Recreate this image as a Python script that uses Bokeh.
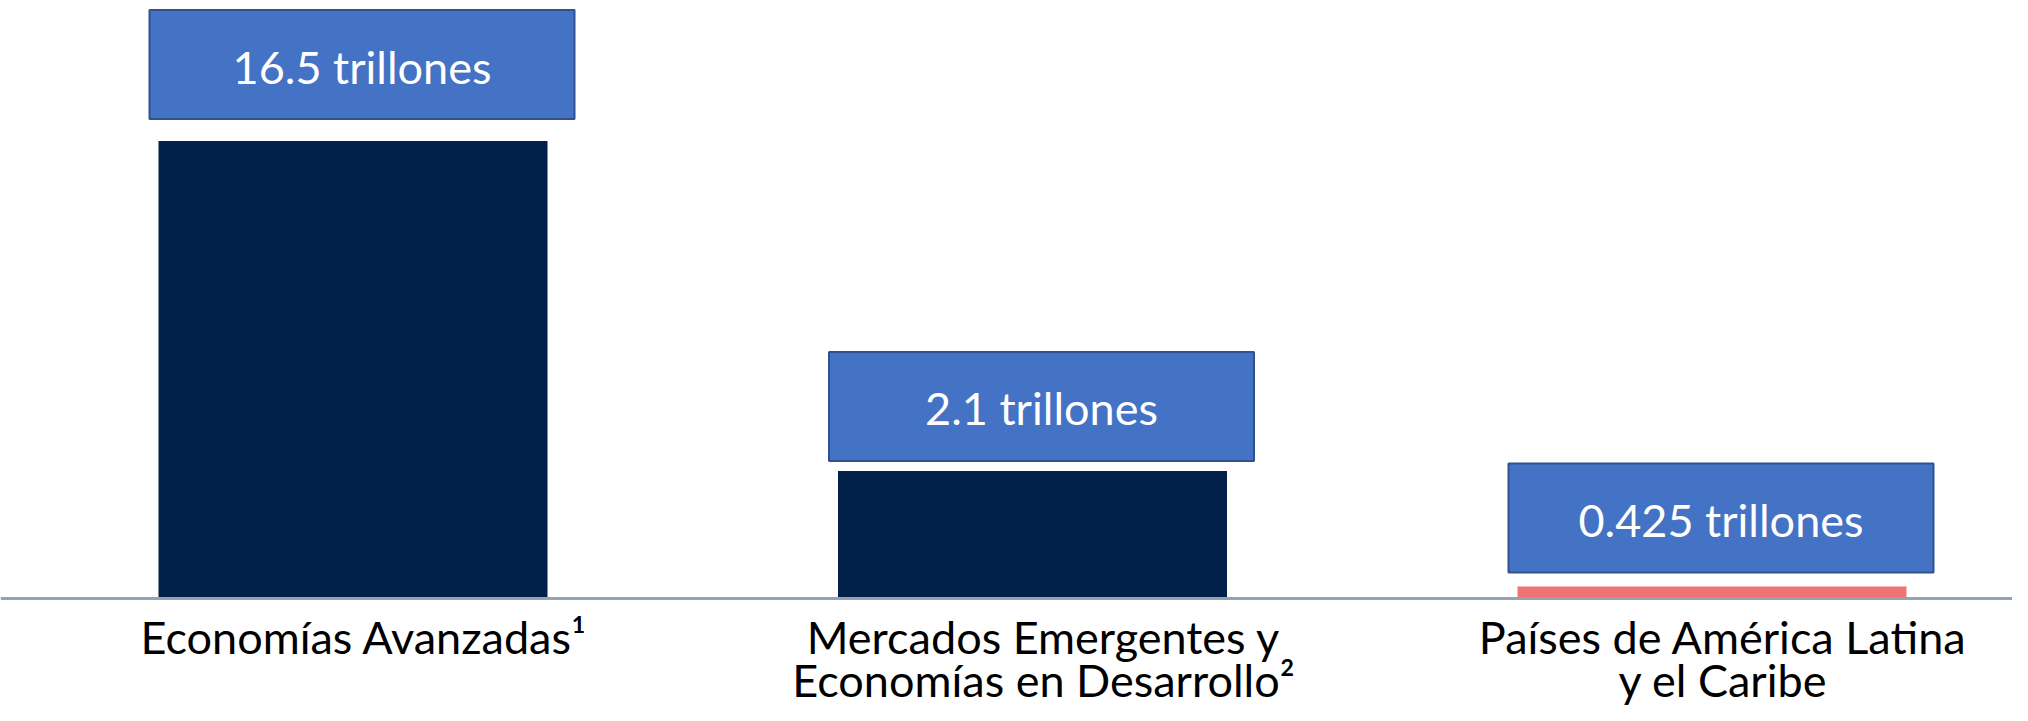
from bokeh.plotting import figure
from bokeh.models import Range1d, Span
from bokeh.core.properties import value
from bokeh.embed import file_html
from bokeh.resources import INLINE

# ---- data ----
categories = [
    "Economías Avanzadas¹",
    "Mercados Emergentes y\nEconomías en Desarrollo²",
    "Países de América Latina\ny el Caribe",
]
values_trillones = [16.5, 2.1, 0.425]
value_labels = ["16.5 trillones", "2.1 trillones", "0.425 trillones"]
bar_heights = [16.5, 4.6, 0.43]          # drawn (schematic) heights as seen in the picture
bar_colors = ["#02214A", "#02214A", "#F07475"]

# ---- layout ----
W, H = 2012, 705
base_px = 598            # baseline position from top of figure
ppu = 457.5 / 16.5       # pixels per unit on y
step_px = 679.5          # pixels between category centres
x0_px = 352.5            # pixel of first category centre
bar_w_px = 389
box_w_px, box_h_px = 425, 109
box_dx_px = 9
box_gap_px = [22, 10, 14]
FONT = "Lato"

p = figure(width=W, height=H, output_backend="svg", toolbar_location=None,
           x_range=Range1d(-x0_px / step_px, (W - x0_px) / step_px),
           y_range=Range1d(-(H - base_px) / ppu, base_px / ppu),
           min_border=0, background_fill_color="white", border_fill_color="white")
p.axis.visible = False
p.grid.visible = False
p.outline_line_color = None

idx = list(range(len(categories)))

# bars
p.vbar(x=idx, top=bar_heights, bottom=0, width=bar_w_px / step_px,
       fill_color=bar_colors, line_color=None)

# baseline
p.add_layout(Span(location=0, dimension="width", line_color="#94A2B5", line_width=3))

# value boxes above each bar
bx = [i + box_dx_px / step_px for i in idx]
bbot = [h + g / ppu for h, g in zip(bar_heights, box_gap_px)]
btop = [b + box_h_px / ppu for b in bbot]
bmid = [(b + t) / 2 for b, t in zip(bbot, btop)]
p.quad(left=[x - box_w_px / 2 / step_px for x in bx],
       right=[x + box_w_px / 2 / step_px for x in bx],
       bottom=bbot, top=btop,
       fill_color="#4472C4", line_color="#2F528F", line_width=2)
p.text(x=bx, y=bmid, text=value_labels, y_offset=2,
       text_align="center", text_baseline="middle",
       text_color="white", text_font=value(FONT), text_font_size="45px")

# category labels (one text glyph per line)
line1 = [c.split("\n")[0] for c in categories]
line2 = [c.split("\n")[1] if "\n" in c else "" for c in categories]
lx = [i + 11 / step_px for i in idx]
p.text(x=lx, y=[0] * 3, text=line1, y_offset=38,
       text_align="center", text_baseline="middle",
       text_color="black", text_font=value(FONT), text_font_size="45px")
p.text(x=lx, y=[0] * 3, text=line2, y_offset=81,
       text_align="center", text_baseline="middle",
       text_color="black", text_font=value(FONT), text_font_size="45px")

open("out.html", "w").write(file_html(p, INLINE))
